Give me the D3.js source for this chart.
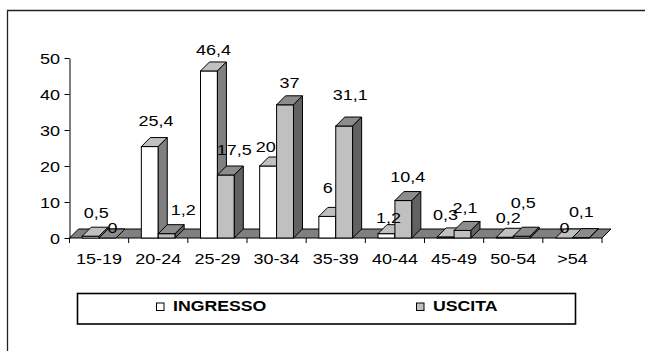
<!DOCTYPE html>
<html>
<head>
<meta charset="utf-8">
<script src="https://cdn.jsdelivr.net/npm/d3@7"></script>
<style>
  html, body { margin: 0; padding: 0; background: #fff; }
  svg { display: block; }
  text { font-family: "Liberation Sans", Arial, sans-serif; fill: #000; }
</style>
</head>
<body>
<svg id="chart" width="645" height="351"></svg>
<script>
// ---- data ----
const categories = ["15-19", "20-24", "25-29", "30-34", "35-39", "40-44", "45-49", "50-54", ">54"];
const seriesNames = ["INGRESSO", "USCITA"];
const ingresso = [0.5, 25.4, 46.4, 20, 6, 1.2, 0.3, 0.2, 0];
const uscita = [0, 1.2, 17.5, 37, 31.1, 10.4, 2.1, 0.5, 0.1];
const yTicks = [0, 10, 20, 30, 40, 50];

// ---- label placement nudges (px), layout only ----
const nudgeIngresso = [[1, 0], [1.6, -2.5], [0, 2], [-7, 4], [-4, -5.4], [-2.5, 7.3], [-4.6, 1], [-1, 3.7], [-4, 13]];
const nudgeUscita = [[0.5, 13], [12, -0.7], [4, -2], [0, 1.2], [1.6, -8], [0, -0.9], [-2, 0.6], [-3, -10.2], [-4, -3]];

// ---- layout / style ----
const svg = d3.select("#chart");
const SX = 1.2;             // horizontal stretch of the text
const FS = 15;
const depth = { dx: 9, dy: -9 };
const styles = [
  { front: "#ffffff", top: "#c0c0c0", side: "#808080" },
  { front: "#c0c0c0", top: "#8c8c8c", side: "#626262" }
];

// outer frame (partly cut by the image)
svg.append("path")
  .attr("d", "M7.5,351 L7.5,10.5 L645,10.5")
  .attr("fill", "none").attr("stroke", "#222").attr("stroke-width", 1.3);

const x0 = d3.scaleBand().domain(categories).range([69.5, 602]).padding(0);
const barW = x0.bandwidth() / 3.5;
const x1 = d3.scaleBand().domain(seriesNames)
  .range([barW * 0.75, barW * 2.75]).padding(0);
const y = d3.scaleLinear().domain([0, 50]).range([238, 58]);

function stretchText(sel, tx, ty) {
  return sel.attr("transform", `translate(${tx},${ty}) scale(${SX},1)`);
}

// floor
const base = y(0);
svg.append("path")
  .attr("d", `M${x0.range()[0]},${base} L${x0.range()[1]},${base} L${x0.range()[1] + depth.dx},${base + depth.dy} L${x0.range()[0] + depth.dx},${base + depth.dy} Z`)
  .attr("fill", "#808080").attr("stroke", "#000").attr("stroke-width", 1);

// y axis
const yAxis = svg.append("g")
  .attr("transform", `translate(${x0.range()[0]},0)`)
  .call(d3.axisLeft(y).tickValues(yTicks).tickSize(5).tickSizeOuter(0).tickFormat(d3.format("d")));
yAxis.select(".domain").attr("stroke", "#000");
yAxis.selectAll(".tick line").attr("stroke", "#000");
yAxis.selectAll(".tick text")
  .attr("x", 0).attr("dy", "0.35em")
  .style("font-size", FS + "px").style("font-family", "Liberation Sans, Arial, sans-serif")
  .attr("fill", "#000")
  .attr("transform", `translate(-9.5,0) scale(${SX},1)`);

// x axis: boundary ticks + centred labels
const bounds = categories.map(c => x0(c)).concat([x0.range()[1]]);
svg.append("g").selectAll("line").data(bounds).join("line")
  .attr("x1", d => d).attr("x2", d => d)
  .attr("y1", base).attr("y2", base + 5)
  .attr("stroke", "#000");
svg.append("g").selectAll("text").data(categories).join("text")
  .attr("text-anchor", "middle")
  .style("font-size", FS + "px")
  .each(function (d) { stretchText(d3.select(this), x0(d) + x0.bandwidth() / 2, 264); })
  .text(d => d);

// bars
const series = [ingresso, uscita];
const nudges = [nudgeIngresso, nudgeUscita];
const barsG = svg.append("g");
categories.forEach((c, i) => {
  seriesNames.forEach((s, k) => {
    const v = series[k][i];
    const xl = x0(c) + x1(s), xr = xl + x1.bandwidth();
    const yt = y(v);
    const st = styles[k];
    const g = barsG.append("g");
    // front
    g.append("rect").attr("x", xl).attr("y", yt).attr("width", xr - xl).attr("height", base - yt)
      .attr("fill", st.front).attr("stroke", "#000").attr("stroke-width", 1);
    // top
    g.append("path")
      .attr("d", `M${xl},${yt} L${xr},${yt} L${xr + depth.dx},${yt + depth.dy} L${xl + depth.dx},${yt + depth.dy} Z`)
      .attr("fill", st.top).attr("stroke", "#000").attr("stroke-width", 1).attr("stroke-linejoin", "round");
    // side
    g.append("path")
      .attr("d", `M${xr},${yt} L${xr + depth.dx},${yt + depth.dy} L${xr + depth.dx},${base + depth.dy} L${xr},${base} Z`)
      .attr("fill", st.side).attr("stroke", "#000").attr("stroke-width", 1).attr("stroke-linejoin", "round");
  });
});

// value labels
const labelsG = svg.append("g");
categories.forEach((c, i) => {
  seriesNames.forEach((s, k) => {
    const v = series[k][i];
    const cx = x0(c) + x1(s) + x1.bandwidth() / 2 + depth.dx / 2 + nudges[k][i][0];
    const by = y(v) + depth.dy - 9 + nudges[k][i][1];
    const t = labelsG.append("text")
      .attr("text-anchor", "middle")
      .style("font-size", FS + "px")
      .text(String(v).replace(".", ","));
    stretchText(t, cx, by);
  });
});

// legend
const leg = svg.append("g");
leg.append("rect").attr("x", 77.5).attr("y", 293.5).attr("width", 498).attr("height", 30.5)
  .attr("fill", "#fff").attr("stroke", "#000").attr("stroke-width", 1.6);
const legX = [156.5, 416.5];
seriesNames.forEach((s, k) => {
  leg.append("rect").attr("x", legX[k]).attr("y", 303).attr("width", 7.5).attr("height", 7.5)
    .attr("fill", styles[k].front).attr("stroke", "#000").attr("stroke-width", 1);
  const t = leg.append("text")
    .style("font-size", FS + "px").style("font-weight", "bold")
    .text(s);
  t.attr("transform", `translate(${legX[k] + 16.5},311) scale(1.18,1)`);
});
</script>
</body>
</html>
